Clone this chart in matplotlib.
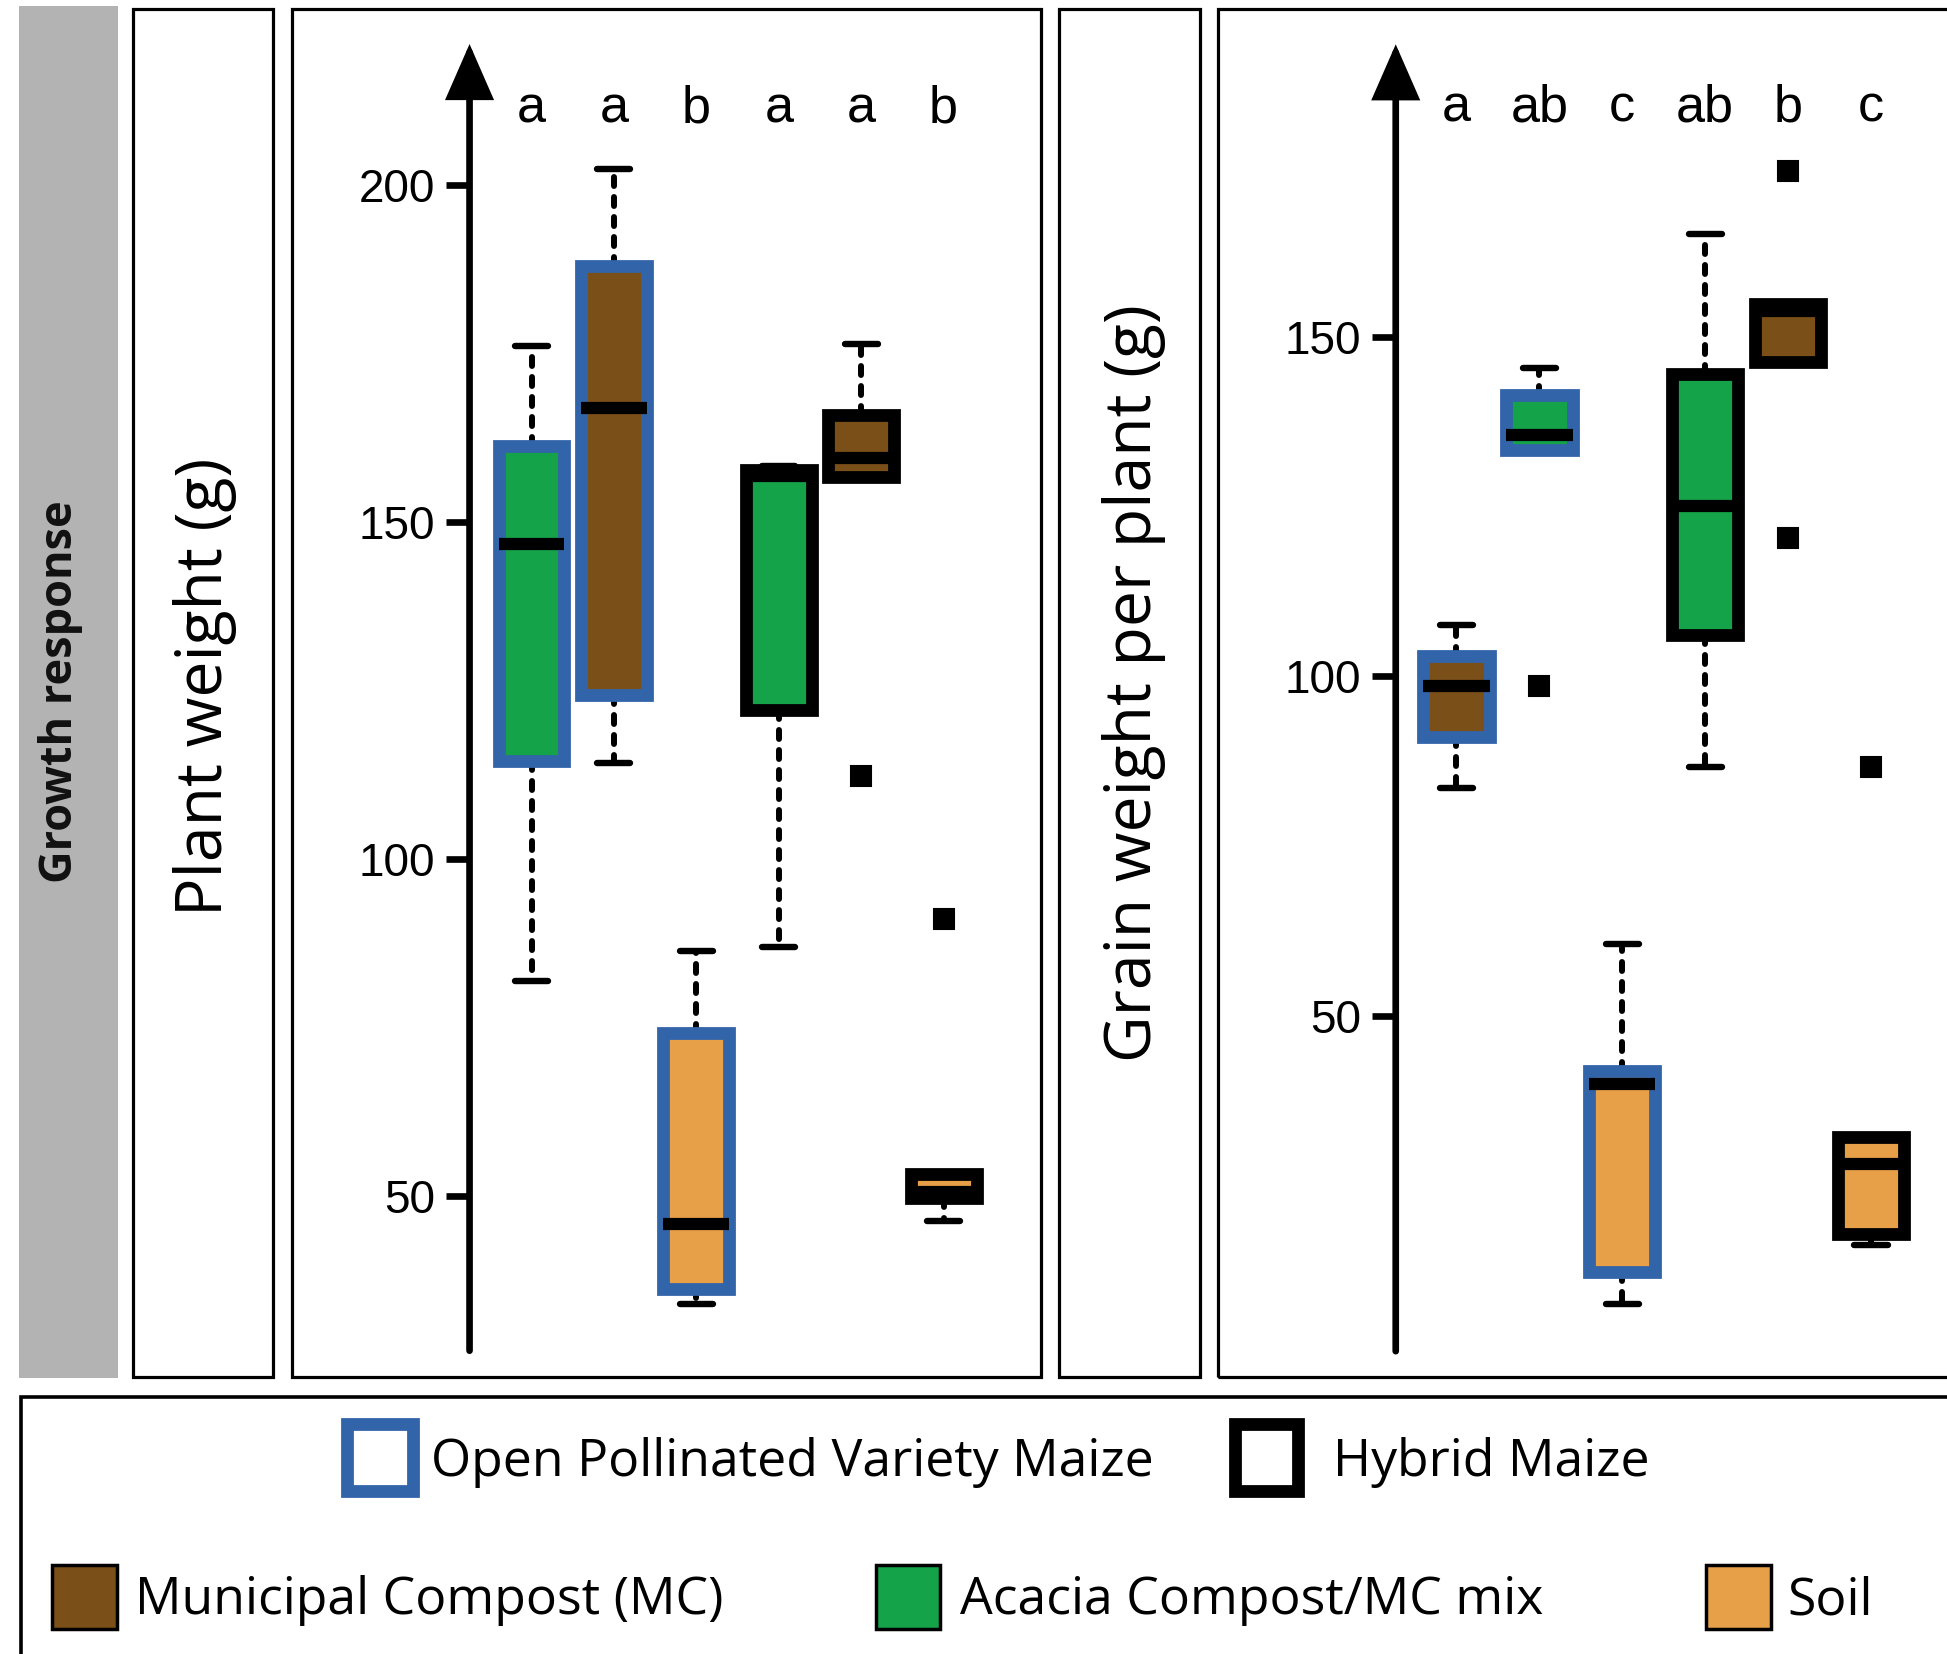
import matplotlib
matplotlib.use("Agg")
import matplotlib.pyplot as plt
from matplotlib.patches import Rectangle

# ---------------- data ----------------
positions = [1, 2, 3, 4, 5, 6]

# Plant weight (g)
pw_treat = ["Acacia", "MC", "Soil", "Acacia", "MC", "Soil"]
pw_variety = ["OPV", "OPV", "OPV", "Hybrid", "Hybrid", "Hybrid"]
pw_whislo = [81.9, 114.3, 34.0, 86.9, 156.7, 46.2]
pw_q1 = [114.5, 124.4, 36.2, 122.1, 156.7, 49.7]
pw_med = [146.7, 167.0, 45.8, 156.8, 159.5, 50.6]
pw_q3 = [161.3, 188.0, 74.1, 157.8, 165.9, 53.3]
pw_whishi = [176.2, 202.4, 86.3, 158.3, 176.5, 53.3]
pw_fliers = [[], [], [], [], [112.3], [91.1]]
pw_letters = ["a", "a", "b", "a", "a", "b"]
pw_ticks = [50, 100, 150, 200]

# Grain weight per plant (g)
gw_treat = ["MC", "Acacia", "Soil", "Acacia", "MC", "Soil"]
gw_variety = ["OPV", "OPV", "OPV", "Hybrid", "Hybrid", "Hybrid"]
gw_whislo = [83.6, 133.3, 7.6, 86.7, 146.3, 16.2]
gw_q1 = [91.0, 133.3, 12.3, 106.1, 146.3, 17.8]
gw_med = [98.6, 135.6, 40.0, 125.1, 153.8, 28.2]
gw_q3 = [103.0, 141.5, 41.8, 144.5, 154.9, 32.1]
gw_whishi = [107.6, 145.4, 60.6, 165.2, 154.9, 32.1]
gw_fliers = [[], [98.6], [], [], [174.5, 120.4], [86.7]]
gw_letters = ["a", "ab", "c", "ab", "b", "c"]
gw_ticks = [50, 100, 150]

strip_label = "Growth response"
ylabels = ["Plant weight (g)", "Grain weight per plant (g)"]
variety_labels = ["Open Pollinated Variety Maize", "Hybrid Maize"]
treat_labels = ["Municipal Compost (MC)", "Acacia Compost/MC mix", "Soil"]

# ---------------- style ----------------
fill_col = {"MC": "#7A4F18", "Acacia": "#14A348", "Soil": "#E7A048"}
edge_col = {"OPV": "#3264AA", "Hybrid": "#000000"}
treat_keys = ["MC", "Acacia", "Soil"]

W, H = 1947, 1654
fig = plt.figure(figsize=(W / 100, H / 100), dpi=100)
fig.patch.set_facecolor("white")

LBL = ["Open Sans", "DejaVu Sans"]
NUM = ["Liberation Sans", "DejaVu Sans"]


def frect(x0, y0, x1, y1, **kw):
    """rectangle given in pixel coords (top-left origin)"""
    r = Rectangle((x0 / W, 1 - y1 / H), (x1 - x0) / W, (y1 - y0) / H,
                  transform=fig.transFigure, **kw)
    fig.add_artist(r)
    return r


def ftext(x, y, s, **kw):
    return fig.text(x / W, 1 - y / H, s, **kw)


# gray strip
frect(18.6, 6.2, 118, 1378, facecolor="#B3B3B3", edgecolor="none", zorder=0)
ftext(61, 692, strip_label, rotation=90, ha="center", va="center",
      fontsize=32.5, fontweight="bold", family=LBL, color="#111111")

# panel frames
panel_lw = 2.3
frect(133, 9, 273, 1377, facecolor="none", edgecolor="black", lw=panel_lw, zorder=1)
frect(292, 9, 1040.5, 1377, facecolor="none", edgecolor="black", lw=panel_lw, zorder=1)
frect(1059, 9, 1199.5, 1377, facecolor="none", edgecolor="black", lw=panel_lw, zorder=1)
frect(1218, 9, 1990, 1377, facecolor="none", edgecolor="black", lw=panel_lw, zorder=1)

ftext(205, 687, ylabels[0], rotation=90, ha="center", va="center",
      fontsize=46.3, family=LBL)
ftext(1134, 683, ylabels[1], rotation=90, ha="center", va="center",
      fontsize=46.2, family=LBL)


def make_axes(px_left, px_right, ylim, xlim, top=9, bottom=1377):
    ax = fig.add_axes([px_left / W, 1 - bottom / H,
                       (px_right - px_left) / W, (bottom - top) / H])
    ax.set_xlim(*xlim)
    ax.set_ylim(*ylim)
    ax.patch.set_visible(False)
    for s in ["top", "right", "bottom"]:
        ax.spines[s].set_visible(False)
    ax.set_xticks([])
    return ax


def draw_panel(ax, axis_x, axis_lo, axis_hi, ticks, q1, med, q3, lo, hi, fl,
               treat, variety, letters, letter_y):
    # axis line with arrow
    ax.spines["left"].set_position(("data", axis_x))
    ax.spines["left"].set_visible(False)
    ax.annotate("", xy=(axis_x, axis_hi), xytext=(axis_x, axis_lo),
                arrowprops=dict(arrowstyle="-|>,head_length=1.6,head_width=0.7",
                                lw=4.8, color="black", shrinkA=0, shrinkB=0,
                                mutation_scale=20, joinstyle="miter"),
                annotation_clip=False)
    ax.set_yticks(ticks)
    ax.set_yticklabels([str(t) for t in ticks], family=NUM)
    ax.tick_params(axis="y", length=17, width=4.8, labelsize=33, pad=8,
                   direction="out")
    stats = []
    for i in range(len(q1)):
        stats.append(dict(med=med[i], q1=q1[i], q3=q3[i], whislo=lo[i],
                          whishi=hi[i], fliers=fl[i]))
    art = ax.bxp(stats, positions=positions, widths=0.8, patch_artist=True,
                 manage_ticks=False, capwidths=0.4,
                 boxprops=dict(linewidth=9.2, joinstyle="miter"),
                 medianprops=dict(color="black", linewidth=8.8,
                                  solid_capstyle="butt"),
                 whiskerprops=dict(color="black", linewidth=4.3,
                                   linestyle=(0, (1.5, 1.85)),
                                   dash_capstyle="round"),
                 capprops=dict(color="black", linewidth=4.6,
                               solid_capstyle="round"),
                 flierprops=dict(marker="s", markersize=14,
                                 markerfacecolor="black",
                                 markeredgecolor="black",
                                 markeredgewidth=1.5, linestyle="none"))
    for i, b in enumerate(art["boxes"]):
        b.set_facecolor(fill_col[treat[i]])
        b.set_edgecolor(edge_col[variety[i]])
        b.set_zorder(3)
    for m in art["medians"]:
        m.set_zorder(4)
    for w in art["whiskers"]:
        w.set_zorder(2)
    for c in art["caps"]:
        c.set_zorder(2.5)
    for i, s in enumerate(letters):
        ax.text(positions[i], letter_y, s, ha="center", va="center",
                fontsize=37.5, family=NUM)


# Plot 1: pixel->data mapping: x_px = 531.4 + (i-1)*82.45 ; y_px = 1195.8 - (v-50)*6.739
ax1 = make_axes(292, 1040.5, (23.1, 226.2), (-1.906, 7.175))
draw_panel(ax1, 0.248, 27.0, 221.0, pw_ticks, pw_q1, pw_med, pw_q3,
           pw_whislo, pw_whishi, pw_fliers, pw_treat, pw_variety,
           pw_letters, 211.3)

# Plot 2: x_px = 1456.5 + (i-1)*82.9 ; y_px = 1015.7 - (v-50)*6.792
ax2 = make_axes(1218, 1947, (-3.2, 198.3), (-1.877, 6.917))
draw_panel(ax2, 0.267, 0.6, 193.1, gw_ticks, gw_q1, gw_med, gw_q3,
           gw_whislo, gw_whishi, gw_fliers, gw_treat, gw_variety,
           gw_letters, 183.7)

# ---------------- legend ----------------
frect(21, 1397, 1990, 1700, facecolor="white", edgecolor="black", lw=2.6, zorder=1)

# row 1 : varieties (outline squares)
leg1_sq = [(347, 413), (1235, 1298)]
leg1_tx = [431, 1333]
for (x0, x1), tx, lab, key in zip(leg1_sq, leg1_tx, variety_labels, ["OPV", "Hybrid"]):
    frect(x0, 1424, x1, 1491, facecolor="white", edgecolor=edge_col[key],
          lw=9.2, joinstyle="miter", zorder=2)
    ftext(tx, 1463, lab, ha="left", va="center", fontsize=37.3, family=LBL)

# row 2 : treatments (filled squares)
leg2_sq = [(52, 117), (876, 940), (1706, 1771)]
leg2_tx = [135, 960, 1787]
for (x0, x1), tx, lab, key in zip(leg2_sq, leg2_tx, treat_labels, treat_keys):
    frect(x0, 1565, x1, 1629, facecolor=fill_col[key], edgecolor="black",
          lw=2.5, zorder=2)
    ftext(tx, 1601, lab, ha="left", va="center", fontsize=37.3, family=LBL)

fig.savefig("out.png", dpi=100)
